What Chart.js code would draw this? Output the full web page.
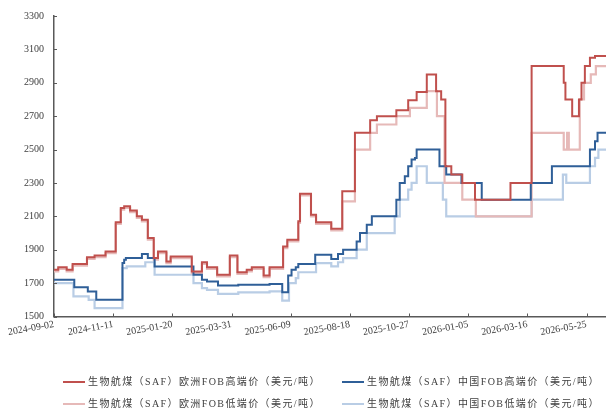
<!DOCTYPE html>
<html><head><meta charset="utf-8">
<script src="https://cdn.jsdelivr.net/npm/chart.js@4.4.1/dist/chart.umd.min.js"></script>
<style>
html,body{margin:0;padding:0;background:#fff;}
#wrap{position:relative;width:606px;height:410px;overflow:hidden;}
#c{position:absolute;left:0;top:0;width:606px;height:410px;}
.lg{position:absolute;height:14px;line-height:14px;font-family:"Liberation Serif","Noto Sans CJK SC",serif;font-size:10px;color:#404040;white-space:nowrap;letter-spacing:1.4px;}
.lg i{display:inline-block;width:22px;height:2px;vertical-align:middle;margin-right:3px;position:relative;top:-1px;}
</style></head>
<body>
<div id="wrap"><canvas id="c" width="606" height="410"></canvas><div id="legend"></div></div>
<script>
// ---- data ----
const startDate = '2024-09-02';
const endDate = '2026-06-17';
const tickStepDays = 70;
const yTicks = [1500, 1700, 1900, 2100, 2300, 2500, 2700, 2900, 3100, 3300];

const seriesNames = [
  '生物航煤（SAF）欧洲FOB高端价（美元/吨）',
  '生物航煤（SAF）中国FOB高端价（美元/吨）',
  '生物航煤（SAF）欧洲FOB低端价（美元/吨）',
  '生物航煤（SAF）中国FOB低端价（美元/吨）'
];
const seriesColors = ['#c0504d', '#2f5f98', '#e6b9b8', '#b9cde5'];

const euHighDates = ['2024-09-02','2024-09-07','2024-09-17','2024-09-24','2024-10-11','2024-10-20','2024-11-02','2024-11-14','2024-11-20','2024-11-24','2024-12-01','2024-12-09','2024-12-15','2024-12-22','2024-12-29','2025-01-03','2025-01-13','2025-01-18','2025-02-12','2025-02-24','2025-03-02','2025-03-14','2025-03-29','2025-04-07','2025-04-18','2025-04-24','2025-05-08','2025-05-15','2025-05-31','2025-06-05','2025-06-18','2025-06-20','2025-07-03','2025-07-09','2025-07-27','2025-08-09','2025-08-24','2025-09-11','2025-09-19','2025-10-12','2025-10-26','2025-11-05','2025-11-17','2025-11-28','2025-12-04','2025-12-09','2025-12-16','2025-12-29','2026-01-13','2026-02-24','2026-03-21','2026-04-28','2026-04-30','2026-05-08','2026-05-16','2026-05-19','2026-05-23','2026-05-29','2026-06-04'];
const euHighValues = [1780,1795,1780,1815,1855,1865,1890,2065,2150,2160,2135,2100,2080,1970,1850,1890,1830,1860,1770,1825,1795,1750,1865,1765,1780,1795,1745,1795,1920,1960,2070,2235,2110,2065,2025,2250,2600,2675,2700,2735,2795,2845,2950,2850,2800,2400,2350,2300,2200,2300,3000,2900,2800,2700,2800,2900,3000,3050,3060];

const cnHighDates = ['2024-09-02','2024-09-26','2024-10-12','2024-10-22','2024-11-22','2024-11-24','2024-11-26','2024-12-15','2024-12-22','2024-12-30','2025-02-14','2025-02-24','2025-03-02','2025-03-15','2025-04-08','2025-05-15','2025-05-30','2025-06-06','2025-06-10','2025-06-15','2025-06-18','2025-07-08','2025-07-27','2025-08-04','2025-08-10','2025-08-26','2025-08-30','2025-09-07','2025-09-13','2025-10-12','2025-10-16','2025-10-22','2025-10-26','2025-10-30','2025-11-03','2025-11-05','2025-12-02','2025-12-10','2025-12-28','2026-01-21','2026-03-20','2026-04-14','2026-05-29','2026-06-04','2026-06-07'];
const cnHighValues = [1720,1675,1650,1600,1820,1840,1850,1875,1850,1800,1750,1720,1710,1685,1690,1695,1645,1745,1780,1795,1815,1870,1845,1875,1900,1950,2000,2050,2100,2200,2300,2340,2400,2440,2450,2500,2400,2350,2300,2200,2300,2400,2500,2550,2600];

const euLowDates = ['2024-09-02','2024-09-07','2024-09-17','2024-09-24','2024-10-11','2024-10-20','2024-11-02','2024-11-14','2024-11-20','2024-11-24','2024-12-01','2024-12-09','2024-12-15','2024-12-22','2024-12-29','2025-01-03','2025-01-13','2025-01-18','2025-02-12','2025-02-24','2025-03-02','2025-03-14','2025-03-29','2025-04-07','2025-04-18','2025-04-24','2025-05-08','2025-05-15','2025-05-31','2025-06-05','2025-06-18','2025-06-20','2025-07-03','2025-07-09','2025-07-27','2025-08-09','2025-08-24','2025-09-11','2025-09-19','2025-10-12','2025-10-28','2025-11-17','2025-11-29','2025-12-08','2025-12-29','2026-01-14','2026-03-21','2026-04-28','2026-05-02','2026-05-04','2026-05-17','2026-05-22','2026-05-30','2026-06-05'];
const euLowValues = [1770,1785,1770,1805,1845,1855,1880,2055,2140,2150,2125,2090,2070,1960,1840,1880,1820,1850,1760,1815,1785,1740,1855,1755,1770,1785,1735,1785,1910,1950,2060,2225,2100,2055,2015,2190,2500,2600,2650,2700,2750,2850,2700,2300,2200,2100,2600,2500,2600,2500,2800,2900,2950,3000];

const cnLowDates = ['2024-09-02','2024-09-25','2024-10-13','2024-10-20','2024-11-22','2024-11-27','2024-12-19','2024-12-30','2025-02-14','2025-02-24','2025-03-02','2025-03-15','2025-04-08','2025-05-15','2025-05-30','2025-06-07','2025-06-15','2025-06-18','2025-07-09','2025-07-27','2025-08-04','2025-08-10','2025-08-26','2025-09-07','2025-10-10','2025-10-16','2025-10-26','2025-10-30','2025-11-05','2025-11-17','2025-12-06','2025-12-10','2026-03-21','2026-04-27','2026-05-01','2026-05-29','2026-06-04','2026-06-08'];
const cnLowValues = [1700,1620,1600,1550,1790,1800,1825,1750,1700,1670,1660,1635,1645,1650,1595,1700,1730,1765,1820,1800,1825,1850,1900,2000,2100,2200,2260,2300,2400,2300,2200,2100,2200,2350,2300,2400,2450,2500];

// ---- helpers ----
function utc(s){ const p = s.split('-').map(Number); return Date.UTC(p[0], p[1]-1, p[2]); }
const DAY = 864e5;
const t0 = utc(startDate);
const dayOf = s => (utc(s) - t0) / DAY;
const lastDay = dayOf(endDate);
function points(dates, values){
  const pts = dates.map((d, i) => ({x: dayOf(d), y: values[i]}));
  pts.push({x: lastDay, y: values[values.length-1]});
  return pts;
}
function dateLabel(v){ return new Date(t0 + v*DAY).toISOString().slice(0,10); }

const seriesData = [
  points(euHighDates, euHighValues),
  points(cnHighDates, cnHighValues),
  points(euLowDates, euLowValues),
  points(cnLowDates, cnLowValues)
];

// inward tick marks drawn from the scales
const innerTicks = {
  id: 'innerTicks',
  afterDraw(chart){
    const {ctx, chartArea, scales} = chart;
    ctx.save();
    ctx.strokeStyle = '#595959';
    ctx.lineWidth = 1;
    scales.x.ticks.forEach(t => {
      const px = Math.round(scales.x.getPixelForValue(t.value)) + 0.5;
      ctx.beginPath(); ctx.moveTo(px, chartArea.bottom); ctx.lineTo(px, chartArea.bottom - 3); ctx.stroke();
    });
    scales.y.ticks.forEach(t => {
      const py = Math.round(scales.y.getPixelForValue(t.value)) + 0.5;
      ctx.beginPath(); ctx.moveTo(chartArea.left, py); ctx.lineTo(chartArea.left + 3, py); ctx.stroke();
    });
    ctx.restore();
  }
};

const tickFont = {family: '"Liberation Serif", serif', size: 10};

new Chart(document.getElementById('c'), {
  type: 'line',
  data: {
    datasets: seriesData.map((d, i) => ({
      label: seriesNames[i],
      data: d,
      borderColor: seriesColors[i],
      backgroundColor: seriesColors[i],
      borderWidth: i < 2 ? 2 : 2.2,
      stepped: true,
      pointRadius: 0,
      fill: false
    }))
  },
  options: {
    responsive: false,
    animation: false,
    devicePixelRatio: 1,
    layout: {padding: {top: 16, right: 0, left: 0, bottom: 0}},
    plugins: {legend: {display: false}, tooltip: {enabled: false}},
    scales: {
      x: {
        type: 'linear',
        min: 0,
        max: lastDay,
        afterFit: s => { s.height = 93.5; },
        grid: {display: true, drawOnChartArea: false, drawTicks: false},
        border: {display: true, color: '#595959', width: 1.5},
        ticks: {
          stepSize: tickStepDays,
          includeBounds: false,
          autoSkip: false,
          minRotation: 10,
          maxRotation: 10,
          padding: 2,
          color: '#404040',
          font: tickFont,
          callback: v => dateLabel(v)
        }
      },
      y: {
        min: yTicks[0],
        max: yTicks[yTicks.length-1],
        afterFit: s => { s.width = 54; },
        afterBuildTicks: s => { s.ticks = yTicks.map(v => ({value: v})); },
        grid: {display: true, drawOnChartArea: false, drawTicks: false},
        border: {display: true, color: '#595959', width: 1.5},
        ticks: {padding: 10, color: '#404040', font: tickFont, callback: v => String(v)}
      }
    }
  },
  plugins: [innerTicks]
});

// HTML legend built from the series names/colours
const legendPos = [[63, 375], [342, 375], [63, 397], [342, 397]];
const lg = document.getElementById('legend');
seriesNames.forEach((name, i) => {
  const d = document.createElement('div');
  d.className = 'lg';
  d.style.left = legendPos[i][0] + 'px';
  d.style.top = legendPos[i][1] + 'px';
  d.innerHTML = '<i style="background:' + seriesColors[i] + '"></i>' + name;
  lg.appendChild(d);
});
</script>
</body></html>
